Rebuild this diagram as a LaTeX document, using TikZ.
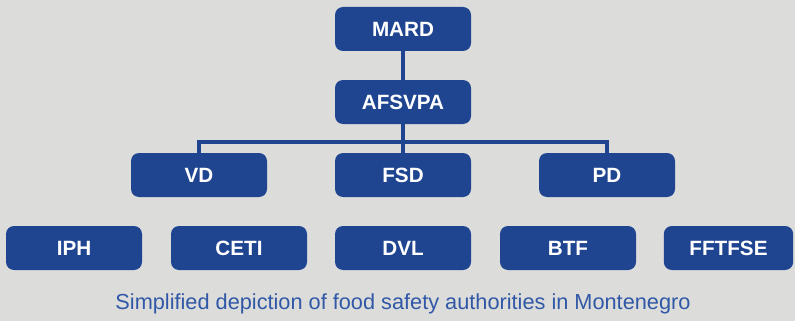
\documentclass[tikz,border=0pt]{standalone}
\usepackage{fontspec}
\setmainfont{Liberation Sans}
\usepackage{tikz}
\definecolor{bgGray}{HTML}{DCDCDB}
\definecolor{boxBlue}{HTML}{1F4591}
\definecolor{capBlue}{HTML}{3158A6}
\tikzset{
  unit/.style={fill=boxBlue,rounded corners=6pt,minimum width=102pt,minimum height=33pt,
    inner sep=0pt,text=white,font=\fontsize{15.5}{18}\selectfont\bfseries},
  link/.style={draw=boxBlue,line width=2.3pt}
}
\begin{document}
\begin{tikzpicture}[x=0.75pt,y=-0.75pt]
\useasboundingbox[fill=bgGray] (0,0) rectangle (795,321);
% top of the chain
\node[unit] (mard) at (403,29) {MARD};
\node[unit] (afsvpa) at (403,102) {AFSVPA};
% divisions
\node[unit] (vd) at (199,175) {VD};
\node[unit] (fsd) at (403,175) {FSD};
\node[unit] (pd) at (607,175) {PD};
% institutions
\node[unit] (iph) at (74,248) {IPH};
\node[unit] (ceti) at (239,248) {CETI};
\node[unit] (dvl) at (403,248) {DVL};
\node[unit] (btf) at (568,248) {BTF};
\node[unit,minimum width=97pt] (fftfse) at (728.5,248) {FFTFSE};
\coordinate (bus) at (403,142);
\draw[link] (mard) -- (afsvpa);
\draw[link] (afsvpa) -- (fsd);
\draw[link] (vd.north) |- (bus) -| (pd.north);
\node[text=capBlue,font=\fontsize{16.3}{19}\selectfont] (caption) at (403,304)
  {Simplified depiction of food safety authorities in Montenegro};
\end{tikzpicture}
\end{document}
